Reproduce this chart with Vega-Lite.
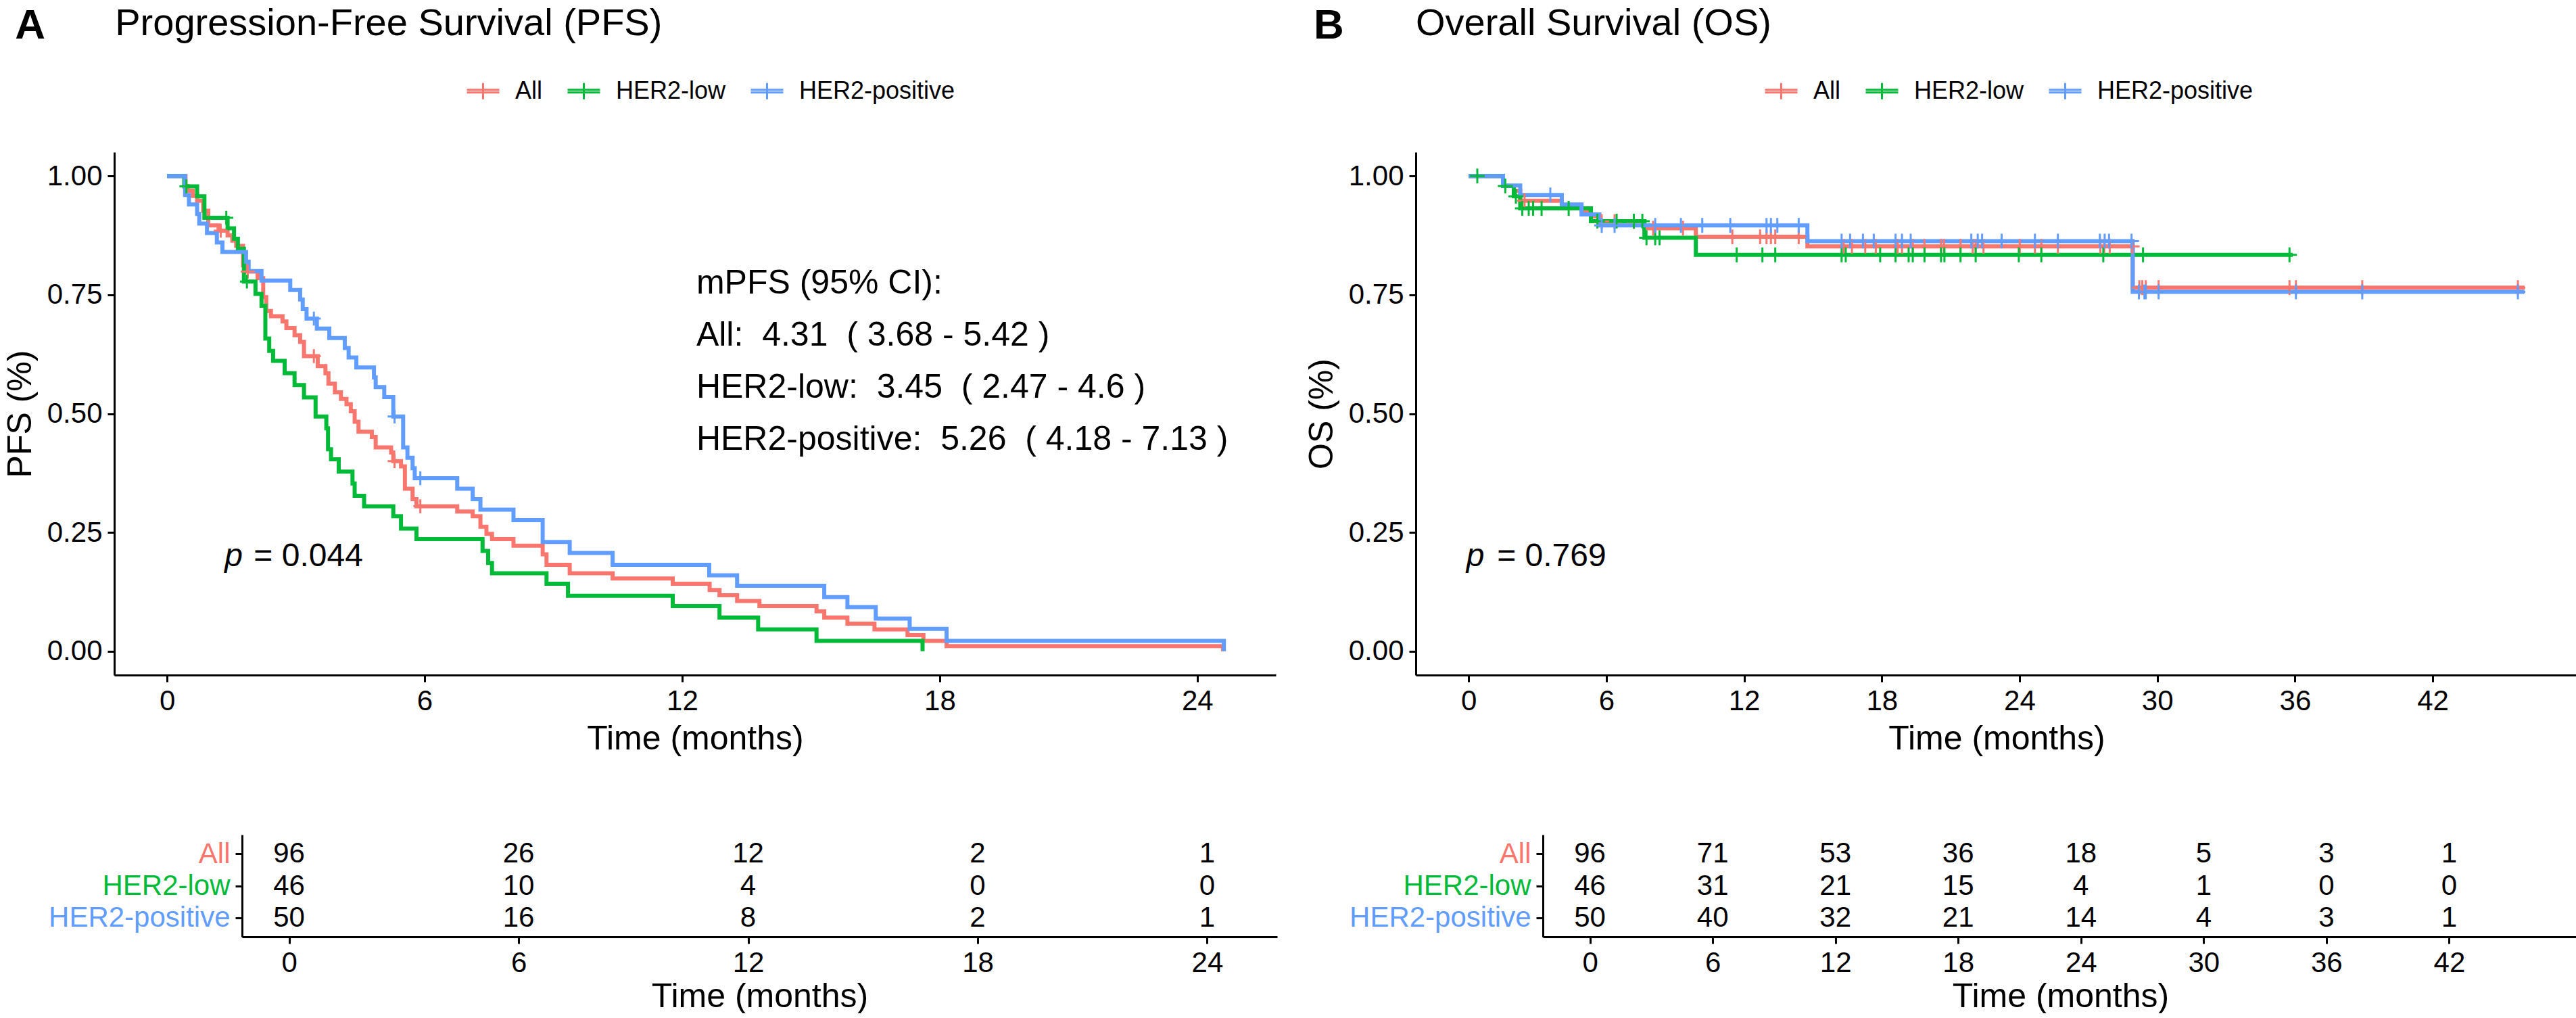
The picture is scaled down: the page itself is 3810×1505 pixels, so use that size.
{
  "$schema": "https://vega.github.io/schema/vega-lite/v6.json",
  "padding": {"left": 5, "top": 7, "right": 0, "bottom": 0},
  "config": {
    "font": "Liberation Sans",
    "view": {"stroke": null},
    "axis": {"grid": false, "domainColor": "black", "domainWidth": 3, "tickColor": "black", "tickWidth": 3, "tickSize": 10, "labelFontSize": 42, "labelColor": "black", "labelFont": "Liberation Sans", "titleFont": "Liberation Sans", "titleFontSize": 50, "titleFontWeight": "normal", "titleColor": "black", "labelPadding": 8, "labelLimit": 500},
    "axisX": {"titlePadding": 4, "labelFlush": false, "format": "d"},
    "axisY": {"titlePadding": 14},
    "text": {"font": "Liberation Sans", "color": "black"}
  },
  "datasets": {
    "km": [
      {"p":"PFS","g":"All","t":0,"s":1},{"p":"PFS","g":"All","t":0.43,"s":0.979},{"p":"PFS","g":"All","t":0.48,"s":0.969},{"p":"PFS","g":"All","t":0.6,"s":0.958},{"p":"PFS","g":"All","t":0.7,"s":0.948},{"p":"PFS","g":"All","t":0.84,"s":0.927},{"p":"PFS","g":"All","t":0.96,"s":0.896},{"p":"PFS","g":"All","t":1.2,"s":0.885},{"p":"PFS","g":"All","t":1.41,"s":0.875},{"p":"PFS","g":"All","t":1.52,"s":0.864},{"p":"PFS","g":"All","t":1.61,"s":0.853},{"p":"PFS","g":"All","t":1.77,"s":0.812},{"p":"PFS","g":"All","t":1.86,"s":0.799},{"p":"PFS","g":"All","t":2.11,"s":0.785},{"p":"PFS","g":"All","t":2.24,"s":0.745},{"p":"PFS","g":"All","t":2.31,"s":0.716},{"p":"PFS","g":"All","t":2.42,"s":0.705},{"p":"PFS","g":"All","t":2.69,"s":0.694},{"p":"PFS","g":"All","t":2.78,"s":0.68},{"p":"PFS","g":"All","t":2.97,"s":0.665},{"p":"PFS","g":"All","t":3.1,"s":0.651},{"p":"PFS","g":"All","t":3.19,"s":0.621},{"p":"PFS","g":"All","t":3.51,"s":0.6},{"p":"PFS","g":"All","t":3.69,"s":0.585},{"p":"PFS","g":"All","t":3.76,"s":0.563},{"p":"PFS","g":"All","t":3.91,"s":0.545},{"p":"PFS","g":"All","t":4.05,"s":0.531},{"p":"PFS","g":"All","t":4.18,"s":0.52},{"p":"PFS","g":"All","t":4.28,"s":0.505},{"p":"PFS","g":"All","t":4.37,"s":0.483},{"p":"PFS","g":"All","t":4.46,"s":0.462},{"p":"PFS","g":"All","t":4.77,"s":0.451},{"p":"PFS","g":"All","t":4.86,"s":0.429},{"p":"PFS","g":"All","t":5.22,"s":0.418},{"p":"PFS","g":"All","t":5.27,"s":0.4},{"p":"PFS","g":"All","t":5.45,"s":0.389},{"p":"PFS","g":"All","t":5.54,"s":0.342},{"p":"PFS","g":"All","t":5.72,"s":0.32},{"p":"PFS","g":"All","t":5.81,"s":0.305},{"p":"PFS","g":"All","t":6.76,"s":0.294},{"p":"PFS","g":"All","t":7.12,"s":0.284},{"p":"PFS","g":"All","t":7.3,"s":0.262},{"p":"PFS","g":"All","t":7.44,"s":0.247},{"p":"PFS","g":"All","t":7.57,"s":0.236},{"p":"PFS","g":"All","t":8.07,"s":0.222},{"p":"PFS","g":"All","t":8.75,"s":0.204},{"p":"PFS","g":"All","t":8.84,"s":0.182},{"p":"PFS","g":"All","t":9.38,"s":0.164},{"p":"PFS","g":"All","t":10.38,"s":0.153},{"p":"PFS","g":"All","t":11.78,"s":0.142},{"p":"PFS","g":"All","t":12.64,"s":0.129},{"p":"PFS","g":"All","t":12.87,"s":0.118},{"p":"PFS","g":"All","t":13.28,"s":0.106},{"p":"PFS","g":"All","t":13.8,"s":0.095},{"p":"PFS","g":"All","t":15.13,"s":0.084},{"p":"PFS","g":"All","t":15.31,"s":0.071},{"p":"PFS","g":"All","t":15.85,"s":0.058},{"p":"PFS","g":"All","t":16.48,"s":0.046},{"p":"PFS","g":"All","t":17.25,"s":0.034},{"p":"PFS","g":"All","t":17.62,"s":0.022},{"p":"PFS","g":"All","t":18.16,"s":0.011},{"p":"PFS","g":"All","t":24.6,"s":0},
      {"p":"PFS","g":"HER2-low","t":0,"s":1},{"p":"PFS","g":"HER2-low","t":0.4,"s":0.978},{"p":"PFS","g":"HER2-low","t":0.7,"s":0.957},{"p":"PFS","g":"HER2-low","t":0.87,"s":0.912},{"p":"PFS","g":"HER2-low","t":1.41,"s":0.89},{"p":"PFS","g":"HER2-low","t":1.56,"s":0.868},{"p":"PFS","g":"HER2-low","t":1.65,"s":0.847},{"p":"PFS","g":"HER2-low","t":1.79,"s":0.778},{"p":"PFS","g":"HER2-low","t":2.06,"s":0.752},{"p":"PFS","g":"HER2-low","t":2.2,"s":0.727},{"p":"PFS","g":"HER2-low","t":2.29,"s":0.658},{"p":"PFS","g":"HER2-low","t":2.38,"s":0.632},{"p":"PFS","g":"HER2-low","t":2.47,"s":0.611},{"p":"PFS","g":"HER2-low","t":2.74,"s":0.585},{"p":"PFS","g":"HER2-low","t":2.97,"s":0.56},{"p":"PFS","g":"HER2-low","t":3.19,"s":0.534},{"p":"PFS","g":"HER2-low","t":3.46,"s":0.494},{"p":"PFS","g":"HER2-low","t":3.71,"s":0.469},{"p":"PFS","g":"HER2-low","t":3.75,"s":0.425},{"p":"PFS","g":"HER2-low","t":3.82,"s":0.404},{"p":"PFS","g":"HER2-low","t":4.0,"s":0.378},{"p":"PFS","g":"HER2-low","t":4.32,"s":0.353},{"p":"PFS","g":"HER2-low","t":4.37,"s":0.327},{"p":"PFS","g":"HER2-low","t":4.59,"s":0.305},{"p":"PFS","g":"HER2-low","t":5.27,"s":0.284},{"p":"PFS","g":"HER2-low","t":5.45,"s":0.258},{"p":"PFS","g":"HER2-low","t":5.81,"s":0.236},{"p":"PFS","g":"HER2-low","t":7.35,"s":0.211},{"p":"PFS","g":"HER2-low","t":7.48,"s":0.186},{"p":"PFS","g":"HER2-low","t":7.57,"s":0.164},{"p":"PFS","g":"HER2-low","t":8.84,"s":0.142},{"p":"PFS","g":"HER2-low","t":9.34,"s":0.117},{"p":"PFS","g":"HER2-low","t":11.78,"s":0.095},{"p":"PFS","g":"HER2-low","t":12.87,"s":0.071},{"p":"PFS","g":"HER2-low","t":13.77,"s":0.046},{"p":"PFS","g":"HER2-low","t":15.13,"s":0.022},{"p":"PFS","g":"HER2-low","t":17.6,"s":0},
      {"p":"PFS","g":"HER2-positive","t":0,"s":1},{"p":"PFS","g":"HER2-positive","t":0.42,"s":0.96},{"p":"PFS","g":"HER2-positive","t":0.51,"s":0.94},{"p":"PFS","g":"HER2-positive","t":0.7,"s":0.92},{"p":"PFS","g":"HER2-positive","t":0.75,"s":0.9},{"p":"PFS","g":"HER2-positive","t":0.93,"s":0.88},{"p":"PFS","g":"HER2-positive","t":1.16,"s":0.86},{"p":"PFS","g":"HER2-positive","t":1.29,"s":0.84},{"p":"PFS","g":"HER2-positive","t":1.84,"s":0.82},{"p":"PFS","g":"HER2-positive","t":1.9,"s":0.8},{"p":"PFS","g":"HER2-positive","t":2.2,"s":0.78},{"p":"PFS","g":"HER2-positive","t":2.87,"s":0.76},{"p":"PFS","g":"HER2-positive","t":3.1,"s":0.74},{"p":"PFS","g":"HER2-positive","t":3.16,"s":0.72},{"p":"PFS","g":"HER2-positive","t":3.25,"s":0.7},{"p":"PFS","g":"HER2-positive","t":3.49,"s":0.679},{"p":"PFS","g":"HER2-positive","t":3.78,"s":0.659},{"p":"PFS","g":"HER2-positive","t":4.14,"s":0.638},{"p":"PFS","g":"HER2-positive","t":4.23,"s":0.618},{"p":"PFS","g":"HER2-positive","t":4.41,"s":0.597},{"p":"PFS","g":"HER2-positive","t":4.82,"s":0.576},{"p":"PFS","g":"HER2-positive","t":4.86,"s":0.556},{"p":"PFS","g":"HER2-positive","t":5.06,"s":0.535},{"p":"PFS","g":"HER2-positive","t":5.27,"s":0.494},{"p":"PFS","g":"HER2-positive","t":5.5,"s":0.429},{"p":"PFS","g":"HER2-positive","t":5.6,"s":0.407},{"p":"PFS","g":"HER2-positive","t":5.72,"s":0.385},{"p":"PFS","g":"HER2-positive","t":5.77,"s":0.364},{"p":"PFS","g":"HER2-positive","t":6.76,"s":0.342},{"p":"PFS","g":"HER2-positive","t":7.12,"s":0.32},{"p":"PFS","g":"HER2-positive","t":7.3,"s":0.298},{"p":"PFS","g":"HER2-positive","t":8.07,"s":0.276},{"p":"PFS","g":"HER2-positive","t":8.75,"s":0.23},{"p":"PFS","g":"HER2-positive","t":9.38,"s":0.207},{"p":"PFS","g":"HER2-positive","t":10.38,"s":0.182},{"p":"PFS","g":"HER2-positive","t":12.63,"s":0.16},{"p":"PFS","g":"HER2-positive","t":13.28,"s":0.138},{"p":"PFS","g":"HER2-positive","t":15.31,"s":0.114},{"p":"PFS","g":"HER2-positive","t":15.85,"s":0.093},{"p":"PFS","g":"HER2-positive","t":16.51,"s":0.069},{"p":"PFS","g":"HER2-positive","t":17.3,"s":0.047},{"p":"PFS","g":"HER2-positive","t":18.16,"s":0.022},{"p":"PFS","g":"HER2-positive","t":24.62,"s":0},
      {"p":"OS","g":"All","t":0,"s":1},{"p":"OS","g":"All","t":1.5,"s":0.979},{"p":"OS","g":"All","t":1.97,"s":0.969},{"p":"OS","g":"All","t":2.25,"s":0.948},{"p":"OS","g":"All","t":4.06,"s":0.937},{"p":"OS","g":"All","t":4.92,"s":0.926},{"p":"OS","g":"All","t":5.33,"s":0.915},{"p":"OS","g":"All","t":5.7,"s":0.904},{"p":"OS","g":"All","t":7.66,"s":0.89},{"p":"OS","g":"All","t":9.9,"s":0.872},{"p":"OS","g":"All","t":14.76,"s":0.852},{"p":"OS","g":"All","t":28.93,"s":0.765},{"p":"OS","g":"All","t":46.0,"s":0.765},
      {"p":"OS","g":"HER2-low","t":0,"s":1},{"p":"OS","g":"HER2-low","t":1.5,"s":0.979},{"p":"OS","g":"HER2-low","t":1.97,"s":0.957},{"p":"OS","g":"HER2-low","t":2.25,"s":0.932},{"p":"OS","g":"HER2-low","t":5.33,"s":0.905},{"p":"OS","g":"HER2-low","t":7.66,"s":0.87},{"p":"OS","g":"HER2-low","t":9.9,"s":0.834},{"p":"OS","g":"HER2-low","t":35.9,"s":0.834},
      {"p":"OS","g":"HER2-positive","t":0,"s":1},{"p":"OS","g":"HER2-positive","t":1.5,"s":0.98},{"p":"OS","g":"HER2-positive","t":2.25,"s":0.96},{"p":"OS","g":"HER2-positive","t":4.06,"s":0.94},{"p":"OS","g":"HER2-positive","t":4.92,"s":0.919},{"p":"OS","g":"HER2-positive","t":5.7,"s":0.896},{"p":"OS","g":"HER2-positive","t":14.76,"s":0.863},{"p":"OS","g":"HER2-positive","t":28.93,"s":0.756},{"p":"OS","g":"HER2-positive","t":46.0,"s":0.756}
    ],
    "cens": [
      {"p":"PFS","g":"All","t":1.25,"s":0.885},{"p":"PFS","g":"All","t":1.88,"s":0.799},{"p":"PFS","g":"All","t":3.42,"s":0.621},{"p":"PFS","g":"All","t":5.3,"s":0.4},{"p":"PFS","g":"All","t":5.9,"s":0.305},
      {"p":"PFS","g":"HER2-low","t":0.45,"s":0.978},{"p":"PFS","g":"HER2-low","t":1.38,"s":0.912},{"p":"PFS","g":"HER2-low","t":1.86,"s":0.778},
      {"p":"PFS","g":"HER2-positive","t":3.42,"s":0.7},{"p":"PFS","g":"HER2-positive","t":5.3,"s":0.494},{"p":"PFS","g":"HER2-positive","t":5.9,"s":0.364},
      {"p":"OS","g":"All","t":2.44,"s":0.948},{"p":"OS","g":"All","t":5.8,"s":0.904},{"p":"OS","g":"All","t":6.36,"s":0.904},{"p":"OS","g":"All","t":7.2,"s":0.904},{"p":"OS","g":"All","t":8.04,"s":0.89},{"p":"OS","g":"All","t":9.34,"s":0.89},{"p":"OS","g":"All","t":11.49,"s":0.872},{"p":"OS","g":"All","t":12.7,"s":0.872},{"p":"OS","g":"All","t":12.98,"s":0.872},{"p":"OS","g":"All","t":13.17,"s":0.872},{"p":"OS","g":"All","t":13.36,"s":0.872},{"p":"OS","g":"All","t":14.38,"s":0.872},{"p":"OS","g":"All","t":16.34,"s":0.852},{"p":"OS","g":"All","t":16.7,"s":0.852},{"p":"OS","g":"All","t":17.28,"s":0.852},{"p":"OS","g":"All","t":17.74,"s":0.852},{"p":"OS","g":"All","t":18.69,"s":0.852},{"p":"OS","g":"All","t":18.88,"s":0.852},{"p":"OS","g":"All","t":19.35,"s":0.852},{"p":"OS","g":"All","t":19.86,"s":0.852},{"p":"OS","g":"All","t":20.58,"s":0.852},{"p":"OS","g":"All","t":20.71,"s":0.852},{"p":"OS","g":"All","t":21.43,"s":0.852},{"p":"OS","g":"All","t":21.96,"s":0.852},{"p":"OS","g":"All","t":22.09,"s":0.852},{"p":"OS","g":"All","t":22.43,"s":0.852},{"p":"OS","g":"All","t":24.01,"s":0.852},{"p":"OS","g":"All","t":24.67,"s":0.852},{"p":"OS","g":"All","t":24.95,"s":0.852},{"p":"OS","g":"All","t":25.67,"s":0.852},{"p":"OS","g":"All","t":27.52,"s":0.852},{"p":"OS","g":"All","t":27.69,"s":0.852},{"p":"OS","g":"All","t":27.93,"s":0.852},{"p":"OS","g":"All","t":28.91,"s":0.852},{"p":"OS","g":"All","t":29.22,"s":0.765},{"p":"OS","g":"All","t":29.35,"s":0.765},{"p":"OS","g":"All","t":29.5,"s":0.765},{"p":"OS","g":"All","t":30.06,"s":0.765},{"p":"OS","g":"All","t":35.76,"s":0.765},{"p":"OS","g":"All","t":36.04,"s":0.765},{"p":"OS","g":"All","t":38.93,"s":0.765},{"p":"OS","g":"All","t":45.71,"s":0.765},
      {"p":"OS","g":"HER2-low","t":0.38,"s":1},{"p":"OS","g":"HER2-low","t":1.6,"s":0.979},{"p":"OS","g":"HER2-low","t":2.06,"s":0.957},{"p":"OS","g":"HER2-low","t":2.34,"s":0.932},{"p":"OS","g":"HER2-low","t":2.62,"s":0.932},{"p":"OS","g":"HER2-low","t":2.81,"s":0.932},{"p":"OS","g":"HER2-low","t":3.18,"s":0.932},{"p":"OS","g":"HER2-low","t":4.36,"s":0.932},{"p":"OS","g":"HER2-low","t":5.61,"s":0.905},{"p":"OS","g":"HER2-low","t":6.45,"s":0.905},{"p":"OS","g":"HER2-low","t":7.2,"s":0.905},{"p":"OS","g":"HER2-low","t":7.57,"s":0.905},{"p":"OS","g":"HER2-low","t":7.75,"s":0.87},{"p":"OS","g":"HER2-low","t":8.13,"s":0.87},{"p":"OS","g":"HER2-low","t":8.32,"s":0.87},{"p":"OS","g":"HER2-low","t":11.68,"s":0.834},{"p":"OS","g":"HER2-low","t":12.8,"s":0.834},{"p":"OS","g":"HER2-low","t":13.36,"s":0.834},{"p":"OS","g":"HER2-low","t":16.25,"s":0.834},{"p":"OS","g":"HER2-low","t":16.43,"s":0.834},{"p":"OS","g":"HER2-low","t":17.93,"s":0.834},{"p":"OS","g":"HER2-low","t":18.6,"s":0.834},{"p":"OS","g":"HER2-low","t":19.17,"s":0.834},{"p":"OS","g":"HER2-low","t":19.35,"s":0.834},{"p":"OS","g":"HER2-low","t":19.86,"s":0.834},{"p":"OS","g":"HER2-low","t":20.58,"s":0.834},{"p":"OS","g":"HER2-low","t":20.73,"s":0.834},{"p":"OS","g":"HER2-low","t":21.43,"s":0.834},{"p":"OS","g":"HER2-low","t":22.09,"s":0.834},{"p":"OS","g":"HER2-low","t":23.97,"s":0.834},{"p":"OS","g":"HER2-low","t":24.95,"s":0.834},{"p":"OS","g":"HER2-low","t":27.65,"s":0.834},{"p":"OS","g":"HER2-low","t":29.38,"s":0.834},{"p":"OS","g":"HER2-low","t":35.76,"s":0.834},
      {"p":"OS","g":"HER2-positive","t":3.56,"s":0.96},{"p":"OS","g":"HER2-positive","t":5.8,"s":0.896},{"p":"OS","g":"HER2-positive","t":6.36,"s":0.896},{"p":"OS","g":"HER2-positive","t":8.13,"s":0.896},{"p":"OS","g":"HER2-positive","t":9.25,"s":0.896},{"p":"OS","g":"HER2-positive","t":10.18,"s":0.896},{"p":"OS","g":"HER2-positive","t":11.4,"s":0.896},{"p":"OS","g":"HER2-positive","t":12.98,"s":0.896},{"p":"OS","g":"HER2-positive","t":13.17,"s":0.896},{"p":"OS","g":"HER2-positive","t":13.45,"s":0.896},{"p":"OS","g":"HER2-positive","t":14.38,"s":0.896},{"p":"OS","g":"HER2-positive","t":16.25,"s":0.863},{"p":"OS","g":"HER2-positive","t":16.62,"s":0.863},{"p":"OS","g":"HER2-positive","t":17.18,"s":0.863},{"p":"OS","g":"HER2-positive","t":17.65,"s":0.863},{"p":"OS","g":"HER2-positive","t":18.6,"s":0.863},{"p":"OS","g":"HER2-positive","t":18.88,"s":0.863},{"p":"OS","g":"HER2-positive","t":19.26,"s":0.863},{"p":"OS","g":"HER2-positive","t":21.9,"s":0.863},{"p":"OS","g":"HER2-positive","t":22.18,"s":0.863},{"p":"OS","g":"HER2-positive","t":22.37,"s":0.863},{"p":"OS","g":"HER2-positive","t":23.22,"s":0.863},{"p":"OS","g":"HER2-positive","t":24.67,"s":0.863},{"p":"OS","g":"HER2-positive","t":25.67,"s":0.863},{"p":"OS","g":"HER2-positive","t":27.5,"s":0.863},{"p":"OS","g":"HER2-positive","t":27.71,"s":0.863},{"p":"OS","g":"HER2-positive","t":27.9,"s":0.863},{"p":"OS","g":"HER2-positive","t":28.88,"s":0.863},{"p":"OS","g":"HER2-positive","t":29.2,"s":0.756},{"p":"OS","g":"HER2-positive","t":29.44,"s":0.756},{"p":"OS","g":"HER2-positive","t":29.5,"s":0.756},{"p":"OS","g":"HER2-positive","t":30.06,"s":0.756},{"p":"OS","g":"HER2-positive","t":36.04,"s":0.756},{"p":"OS","g":"HER2-positive","t":38.93,"s":0.756},{"p":"OS","g":"HER2-positive","t":45.71,"s":0.756}
    ],
    "risk": [
      {"p":"PFS","g":"All","t":0,"n":96},{"p":"PFS","g":"All","t":6,"n":26},{"p":"PFS","g":"All","t":12,"n":12},{"p":"PFS","g":"All","t":18,"n":2},{"p":"PFS","g":"All","t":24,"n":1},
      {"p":"PFS","g":"HER2-low","t":0,"n":46},{"p":"PFS","g":"HER2-low","t":6,"n":10},{"p":"PFS","g":"HER2-low","t":12,"n":4},{"p":"PFS","g":"HER2-low","t":18,"n":0},{"p":"PFS","g":"HER2-low","t":24,"n":0},
      {"p":"PFS","g":"HER2-positive","t":0,"n":50},{"p":"PFS","g":"HER2-positive","t":6,"n":16},{"p":"PFS","g":"HER2-positive","t":12,"n":8},{"p":"PFS","g":"HER2-positive","t":18,"n":2},{"p":"PFS","g":"HER2-positive","t":24,"n":1},
      {"p":"OS","g":"All","t":0,"n":96},{"p":"OS","g":"All","t":6,"n":71},{"p":"OS","g":"All","t":12,"n":53},{"p":"OS","g":"All","t":18,"n":36},{"p":"OS","g":"All","t":24,"n":18},{"p":"OS","g":"All","t":30,"n":5},{"p":"OS","g":"All","t":36,"n":3},{"p":"OS","g":"All","t":42,"n":1},
      {"p":"OS","g":"HER2-low","t":0,"n":46},{"p":"OS","g":"HER2-low","t":6,"n":31},{"p":"OS","g":"HER2-low","t":12,"n":21},{"p":"OS","g":"HER2-low","t":18,"n":15},{"p":"OS","g":"HER2-low","t":24,"n":4},{"p":"OS","g":"HER2-low","t":30,"n":1},{"p":"OS","g":"HER2-low","t":36,"n":0},{"p":"OS","g":"HER2-low","t":42,"n":0},
      {"p":"OS","g":"HER2-positive","t":0,"n":50},{"p":"OS","g":"HER2-positive","t":6,"n":40},{"p":"OS","g":"HER2-positive","t":12,"n":32},{"p":"OS","g":"HER2-positive","t":18,"n":21},{"p":"OS","g":"HER2-positive","t":24,"n":14},{"p":"OS","g":"HER2-positive","t":30,"n":4},{"p":"OS","g":"HER2-positive","t":36,"n":3},{"p":"OS","g":"HER2-positive","t":42,"n":1}
    ]
  },
  "resolve": {"scale": {"color": "independent"}},
  "spacing": 41,
  "hconcat": [
    {
      "spacing": 117,
      "resolve": {"scale": {"color": "independent"}},
      "vconcat": [
        {
          "width": 1718, "height": 773,
          "layer": [
            {
              "data": {"name": "km"},
              "transform": [{"filter": "datum.p === 'PFS'"}],
              "mark": {"type": "line", "interpolate": "step-after", "strokeWidth": 6},
              "encoding": {
                "x": {"field": "t", "type": "quantitative", "scale": {"domain": [-1.23, 25.83], "nice": false, "zero": false}, "axis": {"values": [0, 6, 12, 18, 24], "format": "d", "title": "Time (months)", "titlePadding": 10}},
                "y": {"field": "s", "type": "quantitative", "scale": {"domain": [-0.05, 1.05], "nice": false, "zero": false}, "axis": {"values": [0, 0.25, 0.5, 0.75, 1], "format": ".2f", "title": "PFS (%)"}},
                "color": {"field": "g", "type": "nominal", "scale": {"domain": ["All", "HER2-low", "HER2-positive"], "range": ["#F8766D", "#00BA38", "#619CFF"]},
                  "legend": {"orient": "none", "legendX": 520, "legendY": -116, "direction": "horizontal", "title": null, "symbolType": "M-1,-0.08H1M-1,0.08H1M0,-0.5V0.5", "symbolSize": 2304, "symbolStrokeWidth": 3, "labelFontSize": 36, "labelFont": "Liberation Sans", "labelColor": "black", "labelOffset": 22, "columnPadding": 30, "labelLimit": 500, "padding": 0}}
              }
            },
            {
              "data": {"name": "cens"},
              "transform": [{"filter": "datum.p === 'PFS'"}],
              "mark": {"type": "point", "shape": "M-1,0H1M0,-1V1", "size": 420, "filled": false, "strokeWidth": 3, "opacity": 1},
              "encoding": {
                "x": {"field": "t", "type": "quantitative"},
                "y": {"field": "s", "type": "quantitative"},
                "color": {"field": "g", "type": "nominal"}
              }
            },
            {"data": {"values": [{}]}, "mark": {"type": "text", "text": "A", "fontSize": 62, "fontWeight": "bold", "align": "left", "baseline": "alphabetic"}, "encoding": {"x": {"datum": -3.54}, "y": {"datum": 1.289}}},
            {"data": {"values": [{}]}, "mark": {"type": "text", "text": "Progression-Free Survival (PFS)", "fontSize": 56, "align": "left", "baseline": "alphabetic"}, "encoding": {"x": {"datum": -1.21}, "y": {"datum": 1.296}}},
            {"data": {"values": [{}]}, "mark": {"type": "text", "text": "p", "fontSize": 48, "fontStyle": "italic", "align": "left", "baseline": "alphabetic"}, "encoding": {"x": {"datum": 1.34}, "y": {"datum": 0.179}}},
            {"data": {"values": [{}]}, "mark": {"type": "text", "text": "= 0.044", "fontSize": 48, "align": "left", "baseline": "alphabetic"}, "encoding": {"x": {"datum": 2.02}, "y": {"datum": 0.179}}},
            {"data": {"values": [{}]}, "mark": {"type": "text", "text": ["mPFS (95% CI):", "\u00a0All:\u00a0 4.31\u00a0 ( 3.68 - 5.42 )", "\u00a0HER2-low:\u00a0 3.45\u00a0 ( 2.47 - 4.6 )", "\u00a0HER2-positive:\u00a0 5.26\u00a0 ( 4.18 - 7.13 )"], "fontSize": 50, "lineHeight": 77, "align": "left", "baseline": "alphabetic"}, "encoding": {"x": {"datum": 12.33}, "y": {"datum": 0.752}}}
          ]
        },
        {
          "width": 1720, "height": 151,
          "data": {"name": "risk"},
          "transform": [{"filter": "datum.p === 'PFS'"}],
          "mark": {"type": "text", "fontSize": 42, "baseline": "middle", "align": "center"},
          "encoding": {
            "x": {"field": "t", "type": "quantitative", "scale": {"domain": [-1.23, 25.83], "nice": false, "zero": false, "rangeMin": 189}, "axis": {"values": [0, 6, 12, 18, 24], "format": "d", "title": "Time (months)"}},
            "y": {"field": "g", "type": "nominal", "scale": {"type": "point", "domain": ["All", "HER2-low", "HER2-positive"], "padding": 0.6}, "axis": {"title": null, "offset": -189, "labelColor": {"expr": "datum.value === 'All' ? '#F8766D' : datum.value === 'HER2-low' ? '#00BA38' : '#619CFF'"}}},
            "text": {"field": "n", "type": "quantitative"}
          }
        }
      ]
    },
    {
      "spacing": 117,
      "resolve": {"scale": {"color": "independent"}},
      "vconcat": [
        {
          "width": 1718, "height": 773,
          "layer": [
            {
              "data": {"name": "km"},
              "transform": [{"filter": "datum.p === 'OS'"}],
              "mark": {"type": "line", "interpolate": "step-after", "strokeWidth": 6},
              "encoding": {
                "x": {"field": "t", "type": "quantitative", "scale": {"domain": [-2.3, 48.3], "nice": false, "zero": false}, "axis": {"values": [0, 6, 12, 18, 24, 30, 36, 42], "format": "d", "title": "Time (months)", "titlePadding": 10}},
                "y": {"field": "s", "type": "quantitative", "scale": {"domain": [-0.05, 1.05], "nice": false, "zero": false}, "axis": {"values": [0, 0.25, 0.5, 0.75, 1], "format": ".2f", "title": "OS (%)"}},
                "color": {"field": "g", "type": "nominal", "scale": {"domain": ["All", "HER2-low", "HER2-positive"], "range": ["#F8766D", "#00BA38", "#619CFF"]},
                  "legend": {"orient": "none", "legendX": 515, "legendY": -116, "direction": "horizontal", "title": null, "symbolType": "M-1,-0.08H1M-1,0.08H1M0,-0.5V0.5", "symbolSize": 2304, "symbolStrokeWidth": 3, "labelFontSize": 36, "labelFont": "Liberation Sans", "labelColor": "black", "labelOffset": 22, "columnPadding": 30, "labelLimit": 500, "padding": 0}}
              }
            },
            {
              "data": {"name": "cens"},
              "transform": [{"filter": "datum.p === 'OS'"}],
              "mark": {"type": "point", "shape": "M-1,0H1M0,-1V1", "size": 480, "filled": false, "strokeWidth": 3, "opacity": 1},
              "encoding": {
                "x": {"field": "t", "type": "quantitative"},
                "y": {"field": "s", "type": "quantitative"},
                "color": {"field": "g", "type": "nominal"}
              }
            },
            {"data": {"values": [{}]}, "mark": {"type": "text", "text": "B", "fontSize": 62, "fontWeight": "bold", "align": "left", "baseline": "alphabetic"}, "encoding": {"x": {"datum": -6.75}, "y": {"datum": 1.289}}},
            {"data": {"values": [{}]}, "mark": {"type": "text", "text": "Overall Survival (OS)", "fontSize": 56, "align": "left", "baseline": "alphabetic"}, "encoding": {"x": {"datum": -2.3}, "y": {"datum": 1.296}}},
            {"data": {"values": [{}]}, "mark": {"type": "text", "text": "p", "fontSize": 48, "fontStyle": "italic", "align": "left", "baseline": "alphabetic"}, "encoding": {"x": {"datum": -0.1}, "y": {"datum": 0.179}}},
            {"data": {"values": [{}]}, "mark": {"type": "text", "text": "= 0.769", "fontSize": 48, "align": "left", "baseline": "alphabetic"}, "encoding": {"x": {"datum": 1.24}, "y": {"datum": 0.179}}}
          ]
        },
        {
          "width": 1719, "height": 151,
          "data": {"name": "risk"},
          "transform": [{"filter": "datum.p === 'OS'"}],
          "mark": {"type": "text", "fontSize": 42, "baseline": "middle", "align": "center"},
          "encoding": {
            "x": {"field": "t", "type": "quantitative", "scale": {"domain": [-2.3, 48.3], "nice": false, "zero": false, "rangeMin": 188}, "axis": {"values": [0, 6, 12, 18, 24, 30, 36, 42], "format": "d", "title": "Time (months)"}},
            "y": {"field": "g", "type": "nominal", "scale": {"type": "point", "domain": ["All", "HER2-low", "HER2-positive"], "padding": 0.6}, "axis": {"title": null, "offset": -188, "labelColor": {"expr": "datum.value === 'All' ? '#F8766D' : datum.value === 'HER2-low' ? '#00BA38' : '#619CFF'"}}},
            "text": {"field": "n", "type": "quantitative"}
          }
        }
      ]
    }
  ]
}
